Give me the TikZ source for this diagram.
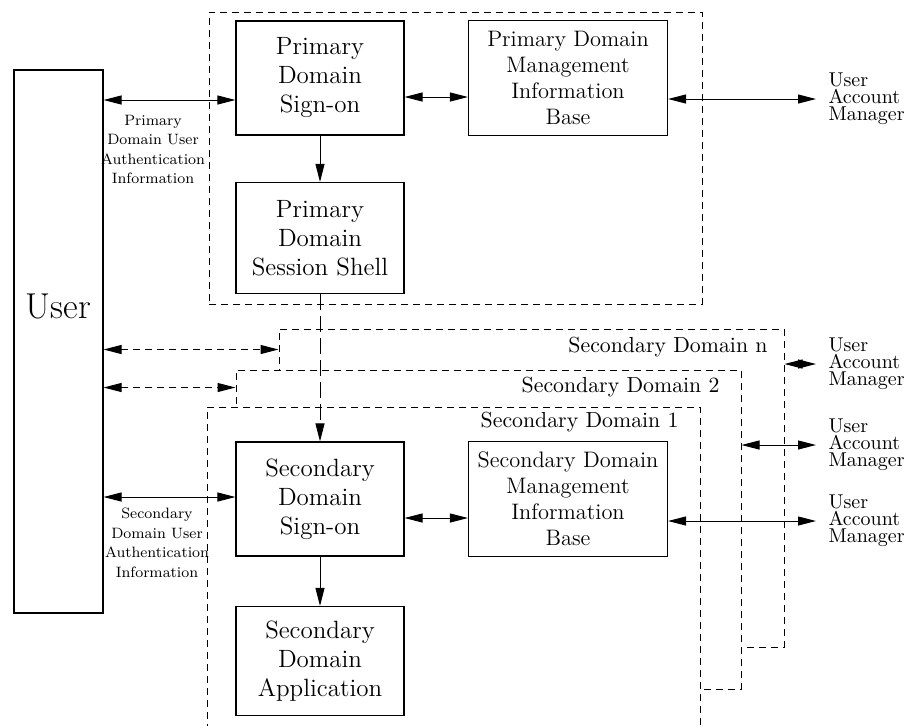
\documentclass[tikz,border=0pt]{standalone}
\usepackage{tikz}
\usetikzlibrary{arrows.meta}

\begin{document}
\begin{tikzpicture}[x=0.5pt,y=-0.5pt,>={Triangle[length=9pt,width=4.5pt]},line width=0.5pt,node distance=123pt,align=center,
    block/.style={draw,line width=0.55pt,fill=white,inner sep=0pt},
    signon/.style={block,minimum width=84pt,minimum height=57pt,font=\fontsize{12.5}{14.5}\selectfont},
    mib/.style={block,minimum width=99.5pt,minimum height=57.5pt,font=\fontsize{11.2}{13}\selectfont},
    domainbox/.style={draw,dash pattern=on 3.5pt off 2.5pt,fill=white,inner sep=0pt},
    domainname/.style={anchor=east,inner sep=0pt,font=\fontsize{10.9}{13}\selectfont},
    authinfo/.style={inner sep=0pt,font=\fontsize{7.5}{9.75}\selectfont},
    uam/.style={anchor=west,align=left,inner xsep=6pt,inner ysep=0pt,font=\fontsize{10}{8.5}\selectfont},
    dashedlink/.style={<->,dash pattern=on 3.5pt off 2.5pt},
    longdash/.style={->,dash pattern=on 8pt off 3pt}]
    \useasboundingbox (0,0) rectangle (904,725);

    \node[domainbox,minimum width=246.5pt,minimum height=146pt] (primary) at (455.5,158) {};
    \node[domainbox,minimum width=252.5pt,minimum height=159pt] (domn) at (531.5,488) {};
    \node[domainbox,minimum width=252.5pt,minimum height=159.5pt] (dom2) at (488.5,529.5) {};
    \node[domainbox,minimum width=246.5pt,minimum height=176.5pt] (dom1) at (453.5,583.5) {};
    \node[domainname] (namen) at (768,347) {Secondary Domain n};
    \node[domainname] (name2) at (720,387) {Secondary Domain 2};
    \node[domainname] (name1) at (679,422) {Secondary Domain 1};

    \node[block,minimum width=44.5pt,minimum height=271.5pt,
          label={[font=\fontsize{18}{21}\selectfont,yshift=17.75pt]center:User}] (user) at (58.5,341.5) {};

    \node[signon] (psign) at (320,78) {Primary\\Domain\\Sign-on};
    \node[mib] (pmib) [right of=psign,node distance=124pt] {Primary Domain\\Management\\Information\\Base};
    \node[signon,minimum height=55.5pt] (pshell) [below of=psign,node distance=80pt] {Primary\\Domain\\Session Shell};
    \node[signon] (ssign) [below of=pshell,node distance=130.5pt] {Secondary\\Domain\\Sign-on};
    \node[mib] (smib) [right of=ssign,node distance=124pt] {Secondary Domain\\Management\\Information\\Base};
    \node[signon,minimum height=54.5pt] (sapp) [below of=ssign,node distance=81pt] {Secondary\\Domain\\Application};

    \node[authinfo] (pauth) at (153,149.5) {Primary\\Domain User\\Authentication\\Information};
    \node[authinfo] (sauth) at (157,543) {Secondary\\Domain User\\Authentication\\Information};

    \node[uam] (uam0) at (816,99) {User\\Account\\Manager};
    \node[uam] (uamn) at (816,364) {User\\Account\\Manager};
    \node[uam] (uam2) at (816,445) {User\\Account\\Manager};
    \node[uam] (uam1) at (816,521) {User\\Account\\Manager};

    \coordinate (pin) at ([yshift=-11pt]psign.west);
    \coordinate (nin) at ([yshift=-10.5pt]domn.north west);
    \coordinate (twoin) at ([yshift=-9pt]dom2.north west);
    \coordinate (sin) at ([yshift=1pt]ssign.west);

    \path[<->] (user.east |- pin) edge (pin)
               (user.east |- sin) edge (sin)
               ([yshift=-9.5pt]psign.east) edge ([yshift=-9.5pt]pmib.west)
               ([yshift=-9.5pt]ssign.east) edge ([yshift=-9.5pt]smib.west)
               (pmib.east |- uam0.west) edge (uam0.west)
               (domn.east |- uamn.west) edge (uamn.west)
               (dom2.east |- uam2.west) edge (uam2.west)
               (smib.east |- uam1.west) edge (uam1.west);
    \path[dashedlink] (user.east |- nin) edge (nin)
                      (user.east |- twoin) edge (twoin);
    \path[->] (psign) edge (pshell)
              (ssign) edge (sapp);
    \path[longdash] (pshell) edge (ssign);
\end{tikzpicture}
\end{document}
